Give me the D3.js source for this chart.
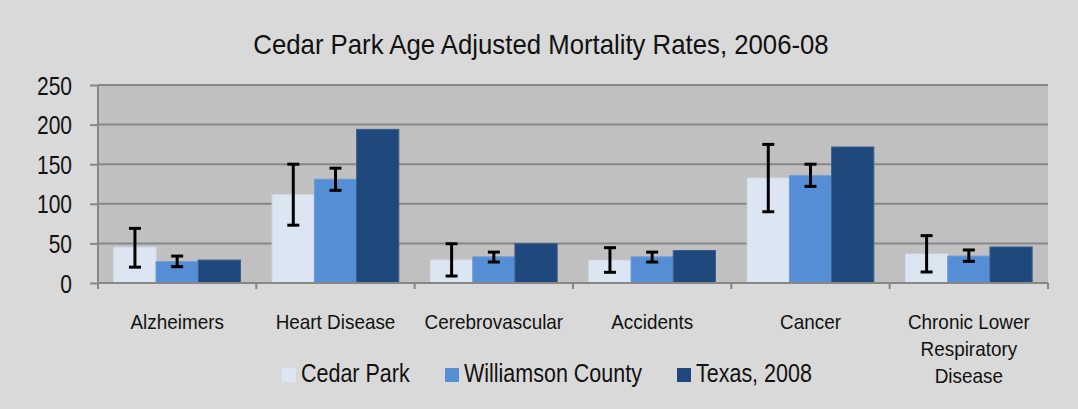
<!DOCTYPE html>
<html>
<head>
<meta charset="utf-8">
<script src="https://cdn.jsdelivr.net/npm/d3@7"></script>
<style>
body { margin: 0; background: #d9d9d9; }
svg { display: block; font-family: "Liberation Sans", Arial, sans-serif; }
</style>
</head>
<body>
<div id="chart"></div>
<script>
// chart data
var categories = ["Alzheimers", "Heart Disease", "Cerebrovascular", "Accidents", "Cancer", "Chronic Lower Respiratory Disease"];
var series = ["Cedar Park", "Williamson County", "Texas, 2008"];
var colors = ["#dce6f2", "#558ed5", "#1f497d"];

var cedarPark = [45, 111.5, 29, 28.6, 132.6, 36.6];
var cedarLow  = [20, 73, 8.8, 13.5, 90, 13.9];
var cedarHigh = [69, 150, 49.6, 44.6, 175, 59.8];

var williamson = [27, 131, 33, 33, 135.5, 34];
var wcLow  = [20.6, 117, 26.5, 26.5, 122, 27.4];
var wcHigh = [34, 145, 39, 39, 150, 41.7];

var texas = [29, 194, 49.6, 41, 171.7, 45.5];

var yTicks = [0, 50, 100, 150, 200, 250];

var width = 1078, height = 409;
var margin = {left: 98, right: 30, top: 85, bottom: 126};
var plotW = width - margin.left - margin.right;
var plotH = height - margin.top - margin.bottom;

// the reference uses a narrow font, squeeze the glyphs horizontally
var narrow = {title: 0.92, tick: 0.84, cat: 0.9, legend: 0.86};

var svg = d3.select("#chart").append("svg")
    .attr("width", width)
    .attr("height", height);

svg.append("rect")
    .attr("width", width).attr("height", height)
    .attr("fill", "#d9d9d9");

svg.append("text")
    .attr("transform", `translate(541,54) scale(${narrow.title},1)`)
    .attr("text-anchor", "middle")
    .attr("font-size", 28)
    .attr("fill", "#111")
    .text("Cedar Park Age Adjusted Mortality Rates, 2006-08");

var g = svg.append("g").attr("transform", `translate(${margin.left},${margin.top})`);

var x = d3.scaleBand().domain(categories).range([0, plotW]).paddingInner(0).paddingOuter(0);
var xs = d3.scaleBand().domain(series).range([x.bandwidth() * 0.1, x.bandwidth() * 0.9]);
var y = d3.scaleLinear().domain([0, 250]).range([plotH, 0]);

g.append("rect")
    .attr("width", plotW).attr("height", plotH)
    .attr("fill", "#c0c0c0");

// gridlines
g.selectAll("line.grid")
    .data(yTicks.slice(1))
    .enter().append("line")
    .attr("class", "grid")
    .attr("x1", 0).attr("x2", plotW)
    .attr("y1", function(d) { return y(d); })
    .attr("y2", function(d) { return y(d); })
    .attr("stroke", "#878787")
    .attr("stroke-width", 2);

var rows = categories.map(function(c, i) {
    return {
        cat: c,
        vals: [
            {s: series[0], v: cedarPark[i], lo: cedarLow[i], hi: cedarHigh[i]},
            {s: series[1], v: williamson[i], lo: wcLow[i], hi: wcHigh[i]},
            {s: series[2], v: texas[i]}
        ]
    };
});

var groups = g.selectAll("g.cat")
    .data(rows)
    .enter().append("g")
    .attr("class", "cat")
    .attr("transform", function(d) { return `translate(${x(d.cat)},0)`; });

groups.selectAll("rect")
    .data(function(d) { return d.vals; })
    .enter().append("rect")
    .attr("x", function(d) { return xs(d.s); })
    .attr("y", function(d) { return y(d.v); })
    .attr("width", xs.bandwidth())
    .attr("height", function(d) { return plotH - y(d.v); })
    .attr("fill", function(d, i) { return colors[i]; })
    .attr("stroke", function(d, i) { return i == 0 ? "#d4dde8" : (i == 1 ? "#6b9bd8" : "#3a5f8c"); })
    .attr("stroke-width", 1);

// error bars
var eb = groups.selectAll("g.err")
    .data(function(d) { return d.vals.filter(function(v) { return v.lo != undefined; }); })
    .enter().append("g")
    .attr("class", "err")
    .attr("stroke", "#000")
    .attr("stroke-width", 3);

eb.append("line")
    .attr("x1", function(d) { return xs(d.s) + xs.bandwidth() / 2; })
    .attr("x2", function(d) { return xs(d.s) + xs.bandwidth() / 2; })
    .attr("y1", function(d) { return y(d.hi); })
    .attr("y2", function(d) { return y(d.lo); });

eb.selectAll("line.cap")
    .data(function(d) { return [d.lo, d.hi].map(function(v) { return {s: d.s, v: v}; }); })
    .enter().append("line")
    .attr("class", "cap")
    .attr("x1", function(d) { return xs(d.s) + xs.bandwidth() / 2 - 6; })
    .attr("x2", function(d) { return xs(d.s) + xs.bandwidth() / 2 + 6; })
    .attr("y1", function(d) { return y(d.v); })
    .attr("y2", function(d) { return y(d.v); });

// y axis
var yAxis = g.append("g")
    .call(d3.axisLeft(y).tickValues(yTicks).tickSize(8));
yAxis.select(".domain").attr("stroke", "#878787").attr("stroke-width", 2).attr("d", `M0,0V${plotH}`);
yAxis.selectAll(".tick line").attr("stroke", "#878787").attr("stroke-width", 2);
yAxis.selectAll(".tick text")
    .attr("x", null).attr("dy", null)
    .attr("transform", `translate(-26,9) scale(${narrow.tick},1)`)
    .attr("font-size", 25).attr("fill", "#111").attr("font-family", null);

// x axis
var xAxis = g.append("g")
    .attr("transform", `translate(0,${plotH})`)
    .call(d3.axisBottom(x).tickSize(0).tickFormat(""));
xAxis.select(".domain").attr("stroke", "#878787").attr("stroke-width", 2).attr("d", `M0,0H${plotW}`);

xAxis.selectAll("line.sep")
    .data(d3.range(categories.length + 1))
    .enter().append("line")
    .attr("class", "sep")
    .attr("x1", function(i) { return i * x.step(); })
    .attr("x2", function(i) { return i * x.step(); })
    .attr("y1", 0).attr("y2", 6)
    .attr("stroke", "#878787").attr("stroke-width", 2);

var catLines = {
    "Chronic Lower Respiratory Disease": ["Chronic Lower", "Respiratory", "Disease"]
};

var labels = g.selectAll("text.cat")
    .data(categories)
    .enter().append("text")
    .attr("class", "cat")
    .attr("text-anchor", "middle")
    .attr("font-size", 21)
    .attr("fill", "#111")
    .attr("transform", function(d) { return `translate(${x(d) + x.bandwidth() / 2},${plotH + 46}) scale(${narrow.cat},1)`; });

labels.selectAll("tspan")
    .data(function(d) { return catLines[d] || [d]; })
    .enter().append("tspan")
    .attr("x", 0)
    .attr("dy", function(d, i) { return i == 0 ? 0 : 27; })
    .text(function(d) { return d; });

// legend
var legendX = [282, 445, 677];
var legend = svg.selectAll("g.legend")
    .data(series)
    .enter().append("g")
    .attr("class", "legend")
    .attr("transform", function(d, i) { return `translate(${legendX[i]},382)`; });

legend.append("rect")
    .attr("x", 0).attr("y", -14)
    .attr("width", 14).attr("height", 14)
    .attr("fill", function(d, i) { return colors[i]; });

legend.append("text")
    .attr("transform", `translate(19,0) scale(${narrow.legend},1)`)
    .attr("font-size", 25)
    .attr("fill", "#111")
    .text(function(d) { return d; });
</script>
</body>
</html>
